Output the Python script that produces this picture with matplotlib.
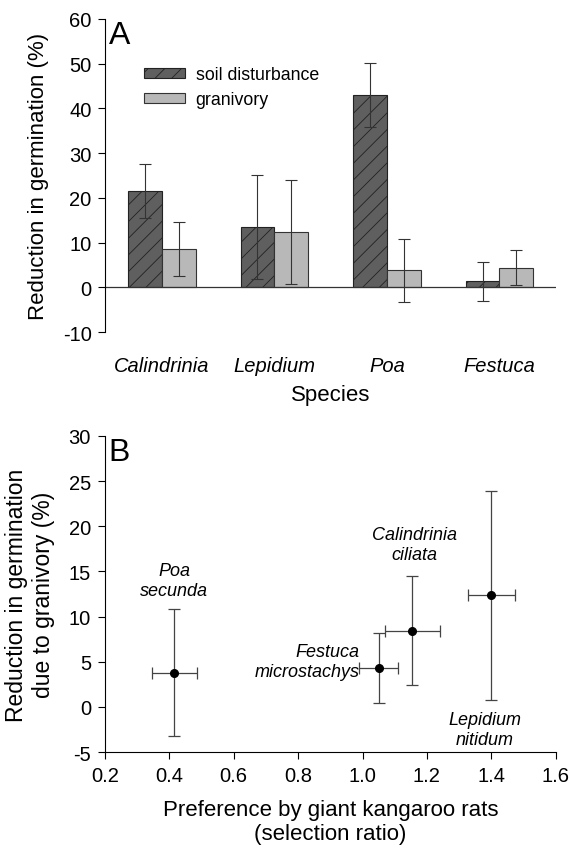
import matplotlib
matplotlib.use('Agg')
import matplotlib.pyplot as plt
import numpy as np

plt.rcParams['font.family'] = ['Liberation Sans', 'DejaVu Sans']
plt.rcParams['hatch.linewidth'] = 0.6
plt.rcParams['axes.unicode_minus'] = False

# panel A data
species = ['Calindrinia', 'Lepidium', 'Poa', 'Festuca']
soil = [21.6, 13.5, 43.0, 1.3]
soil_err = [6.0, 11.7, 7.2, 4.4]
gran = [8.5, 12.3, 3.8, 4.4]
gran_err = [6.0, 11.6, 7.0, 3.9]

# panel B data
b_names = ['Poa\nsecunda', 'Festuca\nmicrostachys', 'Calindrinia\nciliata', 'Lepidium\nnitidum']
b_ratio = [0.415, 1.05, 1.155, 1.40]
b_ratio_err = [0.07, 0.06, 0.085, 0.072]
b_red = [3.8, 4.3, 8.45, 12.35]
b_red_err = [7.0, 3.9, 6.0, 11.6]

fig = plt.figure(figsize=(5.7, 8.53), dpi=100)
axA = fig.add_axes([0.185, 0.6096, 0.790, 0.367])
axB = fig.add_axes([0.184, 0.1172, 0.791, 0.3705])

x = np.arange(len(species))
w = 0.3
errkw = dict(ecolor='#333333', elinewidth=0.8, capsize=4, capthick=0.8)
axA.bar(x - w / 2, soil, w, yerr=soil_err, color='#5f5f5f', edgecolor='#222222',
        linewidth=0.8, hatch='//', label='soil disturbance', error_kw=errkw)
axA.bar(x + w / 2, gran, w, yerr=gran_err, color='#b8b8b8', edgecolor='#333333',
        linewidth=0.8, label='granivory', error_kw=errkw)
axA.axhline(0, color='#333333', lw=0.9)
axA.set_xlim(-0.5, 3.5)
axA.set_ylim(-10, 60)
axA.set_yticks(range(-10, 61, 10))
axA.set_xticks(x)
axA.set_xticklabels(species, fontstyle='italic', fontsize=14.5)
axA.tick_params(axis='x', length=0, pad=17)
axA.tick_params(axis='y', labelsize=14.5, direction='out', length=5, pad=5)
for s in ('top', 'right', 'bottom'):
    axA.spines[s].set_visible(False)
axA.set_ylabel('Reduction in germination (%)', fontsize=16, labelpad=10)
axA.set_xlabel('Species', fontsize=16, labelpad=7)
axA.text(0.008, 0.998, 'A', transform=axA.transAxes, fontsize=23, va='top')
axA.legend(loc='upper left', bbox_to_anchor=(0.05, 0.90), frameon=False,
           fontsize=12.8, handlelength=2.3, handleheight=0.5, labelspacing=0.45,
           handletextpad=0.6)

axB.errorbar(b_ratio, b_red, xerr=b_ratio_err, yerr=b_red_err, fmt='o',
             color='black', ms=5.5, ecolor='#444444', elinewidth=0.9,
             capsize=4, capthick=0.9)
axB.set_xlim(0.2, 1.6)
axB.set_ylim(-5, 30)
axB.set_xticks(np.arange(0.2, 1.61, 0.2))
axB.set_xticklabels(['%.1f' % v for v in np.arange(0.2, 1.61, 0.2)])
axB.set_yticks(range(-5, 31, 5))
axB.tick_params(labelsize=14.5, direction='out', length=5, pad=5)
for s in ('top', 'right'):
    axB.spines[s].set_visible(False)
axB.set_ylabel('Reduction in germination\ndue to granivory (%)', fontsize=16.5,
               labelpad=10)
axB.set_xlabel('Preference by giant kangaroo rats\n(selection ratio)', fontsize=16,
               labelpad=10)
axB.text(0.008, 0.998, 'B', transform=axB.transAxes, fontsize=23, va='top')

lab_pos = [(0.415, 14.0, 'center'), (0.99, 5.0, 'right'),
           (1.16, 18.0, 'center'), (1.38, -2.5, 'center')]
for name, (lx, ly, ha) in zip(b_names, lab_pos):
    axB.text(lx, ly, name, ha=ha, va='center', fontstyle='italic',
             fontsize=13, linespacing=1.2)

fig.savefig('out.png', dpi=100)
